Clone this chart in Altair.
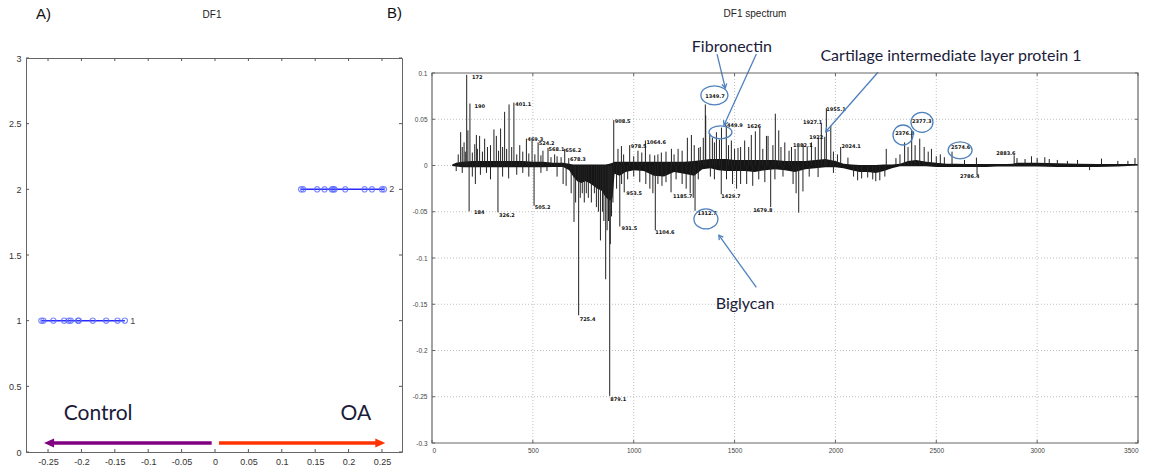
import math
import altair as alt
import pandas as pd

# ---------------- Panel A (DF1 scores) ----------------
ctrl_x = [-0.260, -0.257, -0.242, -0.226, -0.219, -0.216, -0.205, -0.204, -0.183, -0.163, -0.146, -0.135]
oa_x = [0.129, 0.132, 0.153, 0.164, 0.175, 0.177, 0.179, 0.195, 0.224, 0.235, 0.250, 0.253]
group_levels = [1, 2]
group_tags = ["1", "2"]
group_tag_x = [-0.127, 0.261]
side_names = ["Control", "OA"]
side_name_x = [-0.175, 0.211]
side_name_y = 0.29
arrow_y = 0.068
arrow_tail_x = [-0.005, 0.006]
arrow_tip_x = [-0.256, 0.255]
side_colors = ["#800080", "#ff3300"]
a_xticks = [-0.25, -0.2, -0.15, -0.1, -0.05, 0, 0.05, 0.1, 0.15, 0.2, 0.25]
a_yticks = [0, 0.5, 1, 1.5, 2, 2.5, 3]

# ---------------- Panel B (DF1 spectrum) ----------------
pos_mz = [130, 142, 150, 159, 165, 172, 178, 188, 200, 212, 220, 225, 236, 250, 261, 275, 290, 307, 319, 330,
          340, 350, 360, 370, 382, 395, 406, 420, 435, 450, 468, 480, 496, 510, 526, 540, 550, 575, 590, 608,
          620, 640, 658, 678, 901, 922, 939, 950, 980, 1000, 1021, 1040, 1058, 1080, 1104, 1120, 1137, 1160,
          1187, 1200, 1220, 1240, 1266, 1286, 1300, 1322, 1330, 1345, 1355, 1357, 1377, 1390, 1400, 1410,
          1425, 1435, 1459, 1470, 1484, 1500, 1517, 1530, 1550, 1570, 1583, 1603, 1625, 1640, 1658, 1666,
          1690, 1702, 1719, 1730, 1749, 1770, 1782, 1800, 1815, 1840, 1860, 1881, 1900, 1915, 1930, 1947,
          1955, 1977, 1990, 2010, 2026, 2062, 2252, 2300, 2320, 2343, 2360, 2378, 2395, 2418, 2440, 2460,
          2476, 2500, 2520, 2540, 2578, 2640, 2699, 2886, 2900, 2940, 2972, 3000, 3038, 3060, 3100, 3150,
          3200, 3319, 3400, 3450, 3485]
pos_val = [0.012, 0.036, 0.020, 0.025, 0.015, 0.098, 0.038, 0.067, 0.014, 0.023, 0.033, 0.018, 0.032, 0.015, 0.029, 0.020, 0.022, 0.039, 0.032, 0.016,
           0.040, 0.020, 0.058, 0.018, 0.066, 0.020, 0.068, 0.012, 0.022, 0.015, 0.029, 0.013, 0.027, 0.012, 0.025, 0.011, 0.016, 0.019, 0.009, 0.012,
           0.010, 0.009, 0.018, 0.008, 0.049, 0.018, 0.021, 0.012, 0.022, 0.010, 0.016, 0.014, 0.027, 0.012, 0.011, 0.012, 0.014, 0.015,
           0.018, 0.012, 0.018, 0.016, 0.030, 0.033, 0.022, 0.019, 0.020, 0.030, 0.066, 0.054, 0.035, 0.030, 0.025, 0.036,
           0.028, 0.041, 0.043, 0.022, 0.027, 0.018, 0.019, 0.020, 0.027, 0.020, 0.033, 0.037, 0.041, 0.018, 0.032, 0.032,
           0.022, 0.056, 0.038, 0.020, 0.025, 0.016, 0.020, 0.018, 0.020, 0.023, 0.020, 0.025, 0.020, 0.030, 0.045, 0.031,
           0.062, 0.043, 0.015, 0.012, 0.020, 0.0085, 0.018, 0.008, 0.012, 0.025, 0.020, 0.038, 0.022, 0.029, 0.020, 0.015,
           0.018, 0.010, 0.012, 0.009, 0.015, 0.006, 0.0085, 0.011, 0.008, 0.007, 0.010, 0.008, 0.009, 0.007, 0.006, 0.005,
           0.006, 0.0075, 0.005, 0.005, 0.008]

neg_mz = [120, 150, 184, 200, 215, 240, 270, 290, 327, 350, 380, 420, 450, 480, 506, 540, 570, 620, 650, 665,
          690, 704, 712, 727, 735, 745, 755, 765, 775, 790, 805, 815, 825, 835, 845, 852, 861, 868, 875, 881,
          884, 890, 897, 915, 931, 940, 953, 970, 1000, 1030, 1060, 1080, 1095, 1107, 1120, 1140, 1160, 1185,
          1210, 1240, 1260, 1280, 1295, 1304, 1320, 1380, 1400, 1434, 1460, 1490, 1510, 1530, 1560, 1590, 1620,
          1650, 1679, 1700, 1740, 1790, 1805, 1818, 1839, 1870, 1914, 1990, 2090, 2110, 2130, 2160, 2185, 2200,
          2220, 2245, 2702, 3260]
neg_val = [-0.006, -0.008, -0.0496, -0.012, -0.020, -0.010, -0.008, -0.015, -0.0506, -0.012, -0.014, -0.010, -0.008, -0.012, -0.0434, -0.008, -0.006, -0.012, -0.020, -0.022,
           -0.030, -0.061, -0.040, -0.162, -0.035, -0.030, -0.040, -0.030, -0.035, -0.040, -0.030, -0.045, -0.050, -0.081, -0.050, -0.060, -0.123, -0.070, -0.060, -0.249,
           -0.085, -0.055, -0.040, -0.025, -0.066, -0.020, -0.029, -0.015, -0.012, -0.018, -0.020, -0.025, -0.030, -0.070, -0.020, -0.022, -0.018, -0.029,
           -0.015, -0.020, -0.025, -0.030, -0.035, -0.049, -0.015, -0.012, -0.015, -0.031, -0.015, -0.020, -0.025, -0.020, -0.020, -0.022, -0.015,
           -0.018, -0.045, -0.015, -0.012, -0.020, -0.030, -0.051, -0.028, -0.012, -0.0125, -0.008, -0.012, -0.016, -0.014, -0.013, -0.015, -0.017,
           -0.016, -0.012, -0.0103, -0.005]

env_mz = [100, 120, 150, 200, 250, 300, 350, 400, 450, 500, 550, 600, 650, 680, 700, 720, 740, 760, 780, 800,
          820, 840, 860, 880, 895, 905, 930, 960, 1000, 1050, 1100, 1150, 1200, 1250, 1300, 1340, 1380, 1420, 1460, 1500,
          1550, 1600, 1650, 1700, 1750, 1800, 1850, 1900, 1950, 2000, 2040, 2080, 2120, 2160, 2200, 2240, 2280, 2320, 2360, 2400,
          2450, 2500, 2550, 2600, 2650, 2700, 2750, 2800, 2850, 2880, 2900, 2950, 3000, 3100, 3200, 3300, 3400, 3500]
env_hi = [0.001, 0.003, 0.004, 0.005, 0.005, 0.005, 0.005, 0.005, 0.005, 0.004, 0.004, 0.003, 0.003, 0.002, 0.001, 0.001, 0.001, 0.001, 0.001, 0.001,
          0.001, 0.001, 0.001, 0.002, 0.003, 0.004, 0.004, 0.004, 0.004, 0.004, 0.004, 0.004, 0.004, 0.004, 0.005, 0.006, 0.007, 0.007, 0.007, 0.006,
          0.006, 0.006, 0.006, 0.006, 0.005, 0.005, 0.005, 0.006, 0.007, 0.005, 0.002, 0.001, 0.0005, 0.0005, 0.0005, 0.001, 0.001, 0.002, 0.005, 0.006,
          0.004, 0.003, 0.002, 0.002, 0.0015, 0.0015, 0.0015, 0.0015, 0.0015, 0.002, 0.003, 0.003, 0.003, 0.0025, 0.002, 0.0015, 0.0015, 0.0015]
env_lo = [-0.0005, -0.001, -0.002, -0.002, -0.002, -0.002, -0.002, -0.002, -0.002, -0.002, -0.002, -0.0015, -0.0015, -0.005, -0.012, -0.017, -0.019, -0.017, -0.019, -0.022,
          -0.025, -0.027, -0.034, -0.038, -0.035, -0.009, -0.011, -0.007, -0.005, -0.006, -0.011, -0.012, -0.007, -0.009, -0.011, -0.004, -0.003, -0.005, -0.006, -0.006,
          -0.006, -0.007, -0.005, -0.004, -0.005, -0.007, -0.004, -0.003, -0.002, -0.002, -0.003, -0.005, -0.007, -0.007, -0.008, -0.006, -0.003, -0.0008, -0.0008, -0.0008,
          -0.0008, -0.0015, -0.0015, -0.0015, -0.0015, -0.0015, -0.0015, -0.001, -0.001, -0.001, -0.001, -0.001, -0.001, -0.0015, -0.0015, -0.0015, -0.001, 0.0]

peak_labels = ["172", "190", "401.1", "469.3", "524.2", "568.1", "656.2", "678.3", "908.5", "978.5", "1064.6",
               "1349.7", "1449.9", "1626", "1955.1", "1927.1", "1922", "1882.1", "2024.1", "2376.3", "2377.3",
               "2574.6", "2883.6", "184", "326.2", "505.2", "725.4", "879.1", "953.5", "931.5", "1104.6",
               "1185.7", "1429.7", "1312.7", "1679.8", "2786.4"]
peak_label_mz = [198, 211, 413, 473, 529, 578, 661, 684, 906, 985, 1064,
                 1355, 1445, 1562, 1955, 1839, 1870, 1790, 2030, 2296, 2380,
                 2573, 2797, 208, 332, 509, 732, 884, 963, 939, 1107,
                 1195, 1434, 1316, 1592, 2618]
peak_label_y = [0.0953, 0.0647, 0.067, 0.0286, 0.0243, 0.0178, 0.0171, 0.007, 0.0485, 0.0207, 0.0258,
                0.0755, 0.0437, 0.043, 0.061, 0.0474, 0.0312, 0.0225, 0.0215, 0.0352, 0.0481,
                0.0204, 0.0135, -0.0499, -0.0532, -0.0452, -0.166, -0.252, -0.0301, -0.0676, -0.0715,
                -0.0326, -0.0326, -0.0516, -0.0477, -0.0117]

circle_mz = [1400, 1430, 1358, 2335, 2429, 2618]
circle_y = [0.0759, 0.0359, -0.0578, 0.033, 0.0467, 0.0164]
circle_w = [27, 23, 24, 20, 22, 24]
circle_h = [19, 13, 20, 20, 20, 17]

callouts = ["Fibronectin", "Cartilage intermediate layer protein 1", "Biglycan"]
callout_mz = [1487, 2573, 1552]
callout_y = [0.128, 0.118, -0.150]

pointer_from_mz = [1413, 1608, 2211, 1608]
pointer_from_y = [0.1205, 0.1205, 0.1008, -0.1317]
pointer_to_mz = [1454, 1448, 1952, 1422]
pointer_to_y = [0.0838, 0.0438, 0.0365, -0.0754]

b_xticks = [0, 500, 1000, 1500, 2000, 2500, 3000, 3500]
b_yticks = [-0.3, -0.25, -0.2, -0.15, -0.1, -0.05, 0, 0.05, 0.1]

# ---------------- sizes ----------------
W_A, H_A = 376, 394
W_B = 706
X_DOM_A = [-0.283, 0.28]
X_DOM_B = [0, 3500]
Y_LO_B, Y_HI_B = -0.3, 0.1
PX_PER_Y_B = 925.0                      # 370 px for 0.4
TOP_GAP_B = 15                          # plot B starts 15 px lower than plot A
Y_TOP_B = Y_HI_B + TOP_GAP_B / PX_PER_Y_B
H_B = int(round((Y_TOP_B - Y_LO_B) * PX_PER_Y_B))
PX_PER_MZ = W_B / (X_DOM_B[1] - X_DOM_B[0])

TICK_FONT = "Liberation Sans"
NOTE_FONT = "Lato"
NOTE_COLOR = "#1b1b3a"
BLUE = "#4f81bd"
FRAME = "#666"

# ================= Panel A =================
df_a = pd.DataFrame({
    "x": ctrl_x + oa_x,
    "y": [group_levels[0]] * len(ctrl_x) + [group_levels[1]] * len(oa_x),
    "g": ["c"] * len(ctrl_x) + ["o"] * len(oa_x),
})
xA_scale = alt.Scale(domain=X_DOM_A, nice=False, zero=False)
yA_scale = alt.Scale(domain=[0, 3], nice=False, zero=False)
xA_axis = alt.Axis(values=a_xticks, labelExpr="'' + datum.value", title=None, ticks=False, domain=False,
                   grid=False, labelFont=TICK_FONT, labelFontSize=9, labelColor="#333", labelPadding=5)
yA_axis = alt.Axis(values=a_yticks, labelExpr="'' + datum.value", title=None, ticks=False, domain=False,
                   grid=False, labelFont=TICK_FONT, labelFontSize=9, labelColor="#333", labelPadding=5)


def XA(f):
    return alt.X(f, scale=xA_scale, axis=xA_axis, title=None)


def YA(f):
    return alt.Y(f, scale=yA_scale, axis=yA_axis, title=None)


a_line = alt.Chart(df_a).mark_line(color="#2a2aff", strokeWidth=1.5).encode(
    x=XA("x:Q"), y=YA("y:Q"), detail="g:N")
a_pts = alt.Chart(df_a).mark_point(shape="circle", filled=False, size=28, color="#5566ff",
                                   opacity=0.75, strokeWidth=1.2).encode(x=XA("x:Q"), y=YA("y:Q"))

df_tags = pd.DataFrame({"x": group_tag_x, "y": group_levels, "t": group_tags})
a_tags = alt.Chart(df_tags).mark_text(align="left", baseline="middle", font=TICK_FONT, fontSize=9,
                                      color="#444").encode(x=XA("x:Q"), y=YA("y:Q"), text="t:N")

df_side = pd.DataFrame({"x": side_name_x, "y": [side_name_y] * 2, "t": side_names})
a_side = alt.Chart(df_side).mark_text(align="center", baseline="middle", font=NOTE_FONT, fontSize=21,
                                      color=NOTE_COLOR).encode(x=XA("x:Q"), y=YA("y:Q"), text="t:N")

df_arr = pd.DataFrame({"x": arrow_tail_x, "x2": [t + (0.012 if t < 0 else -0.012) for t in arrow_tip_x],
                       "tip": arrow_tip_x, "y": [arrow_y] * 2, "c": side_colors,
                       "shape": ["M 0 0 L 2 -0.9 L 2 0.9 Z", "M 0 0 L -2 -0.9 L -2 0.9 Z"]})
a_shaft = alt.Chart(df_arr).mark_rule(strokeWidth=3.5).encode(
    x=XA("x:Q"), x2="x2:Q", y=YA("y:Q"), color=alt.Color("c:N", scale=None))
a_head = alt.Chart(df_arr).mark_point(filled=True, size=100, opacity=1).encode(
    x=XA("tip:Q"), y=YA("y:Q"), color=alt.Color("c:N", scale=None), shape=alt.Shape("shape:N", scale=None))

df_axt = pd.DataFrame({"v": a_xticks})
df_ayt = pd.DataFrame({"v": a_yticks})
a_tick_b = alt.Chart(df_axt).mark_rule(color="#555").encode(x=XA("v:Q"), y=alt.value(H_A), y2=alt.value(H_A - 3))
a_tick_t = alt.Chart(df_axt).mark_rule(color="#555").encode(x=XA("v:Q"), y=alt.value(0), y2=alt.value(3))
a_tick_l = alt.Chart(df_ayt).mark_rule(color="#555").encode(y=YA("v:Q"), x=alt.value(0), x2=alt.value(3))
a_tick_r = alt.Chart(df_ayt).mark_rule(color="#555").encode(y=YA("v:Q"), x=alt.value(W_A), x2=alt.value(W_A - 3))

a_title_tag = alt.Chart(pd.DataFrame({"t": ["A)"]})).mark_text(
    align="left", baseline="middle", font="Liberation Sans", fontSize=15, color="#111").encode(
    x=alt.value(10), y=alt.value(-44), text="t:N")
a_title = alt.Chart(pd.DataFrame({"t": ["DF1"]})).mark_text(
    align="center", baseline="middle", font="Liberation Sans", fontSize=10, color="#222").encode(
    x=alt.value(186), y=alt.value(-43), text="t:N")
b_title_tag = alt.Chart(pd.DataFrame({"t": ["B)"]})).mark_text(
    align="left", baseline="middle", font="Liberation Sans", fontSize=15, color="#111").encode(
    x=alt.value(361), y=alt.value(-45), text="t:N")

panel_a = alt.layer(a_line, a_pts, a_tags, a_side, a_shaft, a_head,
                    a_tick_b, a_tick_t, a_tick_l, a_tick_r, a_title_tag, a_title, b_title_tag
                    ).properties(width=W_A, height=H_A)

# ================= Panel B =================
xB_scale = alt.Scale(domain=X_DOM_B, nice=False, zero=False)
yB_scale = alt.Scale(domain=[Y_LO_B, Y_TOP_B], nice=False, zero=False)
xB_axis = alt.Axis(values=b_xticks, title=None, ticks=False, domain=False, grid=False,
                   labelFont=TICK_FONT, labelFontSize=6.5, labelColor="#444", labelPadding=4,
                   labelExpr="'' + datum.value")
yB_axis = alt.Axis(values=b_yticks, title=None, ticks=False, domain=False, grid=False,
                   labelFont=TICK_FONT, labelFontSize=6.5, labelColor="#444", labelPadding=5,
                   labelExpr="'' + datum.value")


def XB(f):
    return alt.X(f, scale=xB_scale, axis=xB_axis, title=None)


def YB(f):
    return alt.Y(f, scale=yB_scale, axis=yB_axis, title=None)


# grid (dotted) and frame
df_gx = pd.DataFrame({"v": b_xticks[1:-1], "lo": [Y_LO_B] * (len(b_xticks) - 2), "hi": [Y_HI_B] * (len(b_xticks) - 2)})
df_gy = pd.DataFrame({"v": b_yticks[1:-1], "l": [X_DOM_B[0]] * (len(b_yticks) - 2), "r": [X_DOM_B[1]] * (len(b_yticks) - 2)})
b_gx = alt.Chart(df_gx).mark_rule(color="#b0b0b0", strokeDash=[1, 2], strokeWidth=0.8).encode(
    x=XB("v:Q"), y=YB("lo:Q"), y2="hi:Q")
b_gy = alt.Chart(df_gy).mark_rule(color="#b0b0b0", strokeDash=[1, 2], strokeWidth=0.8).encode(
    y=YB("v:Q"), x=XB("l:Q"), x2="r:Q")

df_env = pd.DataFrame({"mz": env_mz, "hi": env_hi, "lo": env_lo})
b_env = alt.Chart(df_env).mark_area(color="#151515", opacity=1, interpolate="linear").encode(
    x=XB("mz:Q"), y=YB("hi:Q"), y2="lo:Q")

df_sticks = pd.DataFrame({"mz": pos_mz + neg_mz, "v": pos_val + neg_val, "z": [0.0] * (len(pos_mz) + len(neg_mz))})
b_sticks = alt.Chart(df_sticks).mark_rule(color="#222", strokeWidth=1).encode(
    x=XB("mz:Q"), y=YB("z:Q"), y2="v:Q")

df_pl = pd.DataFrame({"mz": peak_label_mz, "y": peak_label_y, "t": peak_labels})
b_pl = alt.Chart(df_pl).mark_text(align="left", baseline="middle", font="DejaVu Sans", fontSize=5,
                                  fontWeight="bold", color="#111").encode(
    x=XB("mz:Q"), y=YB("y:Q"), text="t:N")

df_circ = pd.DataFrame({
    "mz": circle_mz, "y": circle_y,
    "sz": [w * w for w in circle_w],
    "shape": ["M -1 0 A 1 %.3f 0 1 0 1 0 A 1 %.3f 0 1 0 -1 0 Z" % (h / w, h / w) for w, h in zip(circle_w, circle_h)],
})
b_circ = alt.Chart(df_circ).mark_point(filled=False, color=BLUE, strokeWidth=1.3, opacity=1).encode(
    x=XB("mz:Q"), y=YB("y:Q"), size=alt.Size("sz:Q", scale=None), shape=alt.Shape("shape:N", scale=None))

angles = []
for fx, fy, tx, ty in zip(pointer_from_mz, pointer_from_y, pointer_to_mz, pointer_to_y):
    dx = (tx - fx) * PX_PER_MZ
    dy = -(ty - fy) * PX_PER_Y_B
    angles.append(math.degrees(math.atan2(dx, -dy)) % 360)
df_ptr = pd.DataFrame({"fx": pointer_from_mz, "fy": pointer_from_y, "tx": pointer_to_mz, "ty": pointer_to_y,
                       "ang": angles})
b_ptr = alt.Chart(df_ptr).mark_rule(color=BLUE, strokeWidth=1.3).encode(
    x=XB("fx:Q"), y=YB("fy:Q"), x2="tx:Q", y2="ty:Q")
b_ptr_head = alt.Chart(df_ptr).mark_point(filled=False, color=BLUE, strokeWidth=1.3, size=70, opacity=1,
                                          shape="M -0.6 1 L 0 0 L 0.6 1").encode(
    x=XB("tx:Q"), y=YB("ty:Q"), angle=alt.Angle("ang:Q", scale=None))

df_call = pd.DataFrame({"mz": callout_mz, "y": callout_y, "t": callouts})
b_call = alt.Chart(df_call).mark_text(align="center", baseline="middle", font=NOTE_FONT, fontSize=16,
                                      color=NOTE_COLOR).encode(x=XB("mz:Q"), y=YB("y:Q"), text="t:N")

TX = 3 / PX_PER_MZ
TY = 3 / PX_PER_Y_B
n_bx, n_by = len(b_xticks), len(b_yticks)
df_tb = pd.DataFrame({"v": b_xticks + b_xticks,
                      "a": [Y_LO_B] * n_bx + [Y_HI_B] * n_bx,
                      "b": [Y_LO_B + TY] * n_bx + [Y_HI_B - TY] * n_bx})
df_tl = pd.DataFrame({"v": b_yticks + b_yticks,
                      "a": [X_DOM_B[0]] * n_by + [X_DOM_B[1]] * n_by,
                      "b": [X_DOM_B[0] + TX] * n_by + [X_DOM_B[1] - TX] * n_by})
b_tick_x = alt.Chart(df_tb).mark_rule(color=FRAME).encode(x=XB("v:Q"), y=YB("a:Q"), y2="b:Q")
b_tick_y = alt.Chart(df_tl).mark_rule(color=FRAME).encode(y=YB("v:Q"), x=XB("a:Q"), x2="b:Q")

df_frame = pd.DataFrame({"x0": [X_DOM_B[0]], "x1": [X_DOM_B[1]], "y0": [Y_LO_B], "y1": [Y_HI_B]})
b_frame = alt.Chart(df_frame).mark_rect(fillOpacity=0, stroke=FRAME, strokeWidth=1.2).encode(
    x=XB("x0:Q"), x2="x1:Q", y=YB("y0:Q"), y2="y1:Q")

b_title = alt.Chart(pd.DataFrame({"t": ["DF1 spectrum"]})).mark_text(
    align="center", baseline="middle", font="Liberation Sans", fontSize=10, color="#222").encode(
    x=alt.value(323), y=alt.value(-44), text="t:N")

panel_b = alt.layer(b_gx, b_gy, b_env, b_sticks, b_pl, b_circ, b_ptr, b_ptr_head, b_call,
                    b_tick_x, b_tick_y, b_frame, b_title
                    ).properties(width=W_B, height=H_B, view=alt.ViewBackground(stroke=None))

chart = alt.hconcat(panel_a, panel_b, spacing=9).properties(
    padding={"left": 7, "top": 5, "right": 0, "bottom": 0},
    background="white",
).configure_view(stroke=FRAME, strokeWidth=1)

chart.save("out.html", embed_options={"renderer": "svg", "actions": False})
